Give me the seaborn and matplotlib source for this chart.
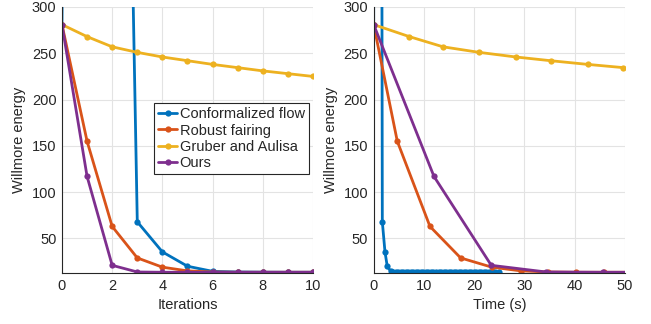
import numpy as np
import pandas as pd
import matplotlib
matplotlib.use('Agg')
import matplotlib.pyplot as plt
import seaborn as sns

# 方法名称与颜色
methods = ['Conformalized flow', 'Robust fairing', 'Gruber and Aulisa', 'Ours']
colors = ['#0072BD', '#D95319', '#EDB120', '#7E2F8E']

# 每次迭代的能量
conf_energy = [281, 5000, 1520, 68, 35.5, 20, 14.5, 13.8, 13.6, 13.5, 13.5,
               13.5, 13.5, 13.5, 13.5, 13.5, 13.5, 13.5, 13.5, 13.5, 13.5,
               13.5, 13.5, 13.5, 13.5, 13.5, 13.5, 13.5, 13.5, 13.5, 13.5,
               13.5, 13.5, 13.5, 13.5, 13.5, 13.5, 13.5, 13.5, 13.5, 13.5,
               13.5, 13.5, 13.5, 13.5, 13.5, 13.5, 13.5, 13.5]
conf_time = [0, 0.6, 1.28, 1.72, 2.25, 2.7, 3.4, 3.9, 4.4, 4.9, 5.4,
             5.9, 6.4, 6.9, 7.4, 7.9, 8.4, 8.9, 9.4, 9.9, 10.4,
             10.9, 11.4, 11.9, 12.4, 12.9, 13.4, 13.9, 14.4, 14.9, 15.4,
             15.9, 16.4, 16.9, 17.4, 17.9, 18.4, 18.9, 19.4, 19.9, 20.4,
             20.9, 21.4, 21.9, 22.4, 22.9, 23.5, 24.2, 24.9]

robust_energy = [281, 155, 63, 29, 19, 15, 13.8, 13.5, 13.5, 13.5, 13.5]
robust_time = [0, 4.7, 11.2, 17.3, 23.5, 29.3, 34.7, 40.3, 45.8, 51.5, 57.2]

gruber_energy = [281, 268, 257, 251, 246, 242, 238, 234.5, 231, 228, 225]
gruber_time = [0, 7.1, 13.8, 21.0, 28.3, 35.2, 42.6, 49.7, 56.8, 63.9, 71.0]

ours_energy = [281, 117, 21, 13.8, 13.5, 13.5, 13.5, 13.5, 13.5, 13.5, 13.5]
ours_time = [0, 12.0, 23.4, 34.3, 45.6, 57.0, 68.4, 79.8, 91.2, 102.6, 114.0]

energies = [conf_energy, robust_energy, gruber_energy, ours_energy]
times = [conf_time, robust_time, gruber_time, ours_time]

rows = []
for m, e, t in zip(methods, energies, times):
    for i in range(len(e)):
        rows.append({'method': m, 'iter': i, 'time': t[i], 'energy': e[i]})
df = pd.DataFrame(rows)

sns.set_style('whitegrid')
plt.rcParams['font.family'] = ['Liberation Sans', 'DejaVu Sans']
plt.rcParams['font.size'] = 10.5

fig = plt.figure(figsize=(6.51, 3.24), dpi=100)
ax1 = fig.add_axes([0.0952, 0.1574, 0.3856, 0.821])
ax2 = fig.add_axes([0.574, 0.1574, 0.386, 0.821])

palette = dict(zip(methods, colors))
for ax, xcol in [(ax1, 'iter'), (ax2, 'time')]:
    sns.lineplot(data=df, x=xcol, y='energy', hue='method', palette=palette,
                 hue_order=methods, marker='o', markersize=4.5, markeredgewidth=0,
                 linewidth=2, estimator=None, sort=False, ax=ax, legend=(ax is ax1))
    ax.set_ylim(12.7, 300)
    ax.set_yticks([50, 100, 150, 200, 250, 300])
    ax.set_ylabel('Willmore energy', color='#262626')
    ax.grid(True, color='#e3e3e3', linewidth=0.8)
    for s in ['top', 'right']:
        ax.spines[s].set_visible(False)
    for s in ['left', 'bottom']:
        ax.spines[s].set_color('#262626')
        ax.spines[s].set_linewidth(0.8)
    ax.tick_params(colors='#262626', labelsize=10.5, length=0, pad=4)

ax1.set_xlim(0, 10)
ax1.set_xticks([0, 2, 4, 6, 8, 10])
ax1.set_xlabel('Iterations', color='#262626')
ax2.set_xlim(0, 50)
ax2.set_xticks([0, 10, 20, 30, 40, 50])
ax2.set_xlabel('Time (s)', color='#262626')

leg = ax1.legend(loc='upper left', bbox_to_anchor=(0.367, 0.639), borderaxespad=0,
                 frameon=True, fancybox=False, edgecolor='#262626', framealpha=1,
                 handlelength=1.3, handletextpad=0.15, labelspacing=0.15,
                 borderpad=0.3, fontsize=10.5)
leg.get_frame().set_linewidth(0.8)

plt.savefig('out.png', dpi=100)
